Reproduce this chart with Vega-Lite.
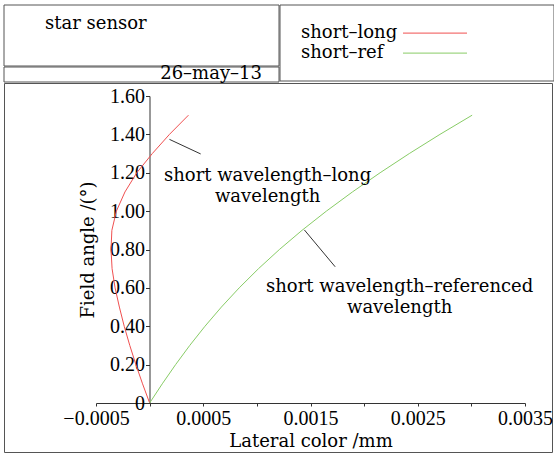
{
  "$schema": "https://vega.github.io/schema/vega-lite/v6.json",
  "padding": {"left": 3, "top": 4, "right": 2, "bottom": 2},
  "autosize": {"type": "pad"},
  "spacing": -3,
  "resolve": {"scale": {"color": "independent"}, "legend": {"color": "independent"}},
  "config": {
    "view": {"stroke": "#555", "strokeWidth": 1},
    "axis": {"labelFont": "Liberation Serif", "labelFontSize": 20, "labelColor": "black", "titleFont": "DejaVu Serif", "titleFontSize": 18, "titleFontWeight": "normal", "titleColor": "black", "grid": false, "domainColor": "#333", "tickColor": "#333"},
    "text": {"font": "DejaVu Serif", "fontSize": 18, "color": "black"}
  },
  "datasets": {
    "curves": [
      {"series": "short–long", "f": 0.0, "v": 0.0},
      {"series": "short–long", "f": 0.1, "v": -0.000066},
      {"series": "short–long", "f": 0.2, "v": -0.000128},
      {"series": "short–long", "f": 0.3, "v": -0.000185},
      {"series": "short–long", "f": 0.4, "v": -0.000237},
      {"series": "short–long", "f": 0.5, "v": -0.000282},
      {"series": "short–long", "f": 0.6, "v": -0.000322},
      {"series": "short–long", "f": 0.7, "v": -0.00035},
      {"series": "short–long", "f": 0.8, "v": -0.00036},
      {"series": "short–long", "f": 0.9, "v": -0.000352},
      {"series": "short–long", "f": 1.0, "v": -0.00031},
      {"series": "short–long", "f": 1.1, "v": -0.00023},
      {"series": "short–long", "f": 1.2, "v": -0.00012},
      {"series": "short–long", "f": 1.3, "v": 0.000025},
      {"series": "short–long", "f": 1.4, "v": 0.000185},
      {"series": "short–long", "f": 1.5, "v": 0.000362},
      {"series": "short–ref", "f": 0.0, "v": 0.0},
      {"series": "short–ref", "f": 0.1, "v": 0.000118},
      {"series": "short–ref", "f": 0.2, "v": 0.000242},
      {"series": "short–ref", "f": 0.3, "v": 0.000374},
      {"series": "short–ref", "f": 0.4, "v": 0.000516},
      {"series": "short–ref", "f": 0.5, "v": 0.000669},
      {"series": "short–ref", "f": 0.6, "v": 0.000835},
      {"series": "short–ref", "f": 0.7, "v": 0.001015},
      {"series": "short–ref", "f": 0.8, "v": 0.00121},
      {"series": "short–ref", "f": 0.9, "v": 0.001421},
      {"series": "short–ref", "f": 1.0, "v": 0.001648},
      {"series": "short–ref", "f": 1.1, "v": 0.001891},
      {"series": "short–ref", "f": 1.2, "v": 0.002149},
      {"series": "short–ref", "f": 1.3, "v": 0.002421},
      {"series": "short–ref", "f": 1.4, "v": 0.002707},
      {"series": "short–ref", "f": 1.5, "v": 0.003007}
    ],
    "series": [
      {"series": "short–long"},
      {"series": "short–ref"}
    ],
    "box": [{"box": "frame"}],
    "header": [{"label": "star sensor"}],
    "date": [{"label": "26–may–13"}],
    "leaders": [
      {"v": 0.000185, "f": 1.374, "v2": 0.000476, "f2": 1.298},
      {"v": 0.001443, "f": 0.902, "v2": 0.00173, "f2": 0.71}
    ],
    "notes": [
      {"v": 0.0011, "f": 1.183, "label": "short wavelength–long\nwavelength"},
      {"v": 0.002331, "f": 0.607, "label": "short wavelength–referenced\nwavelength"}
    ]
  },
  "vconcat": [
    {
      "spacing": -2,
      "hconcat": [
        {
          "spacing": -2,
          "vconcat": [
            {
              "width": 275,
              "height": 61,
              "layer": [
                {"data": {"name": "box"}, "mark": {"type": "rect", "fill": "white", "stroke": "#555", "strokeWidth": 1}},
                {"data": {"name": "header"}, "mark": {"type": "text", "align": "left", "baseline": "alphabetic", "dx": -96.5, "dy": -6.5},
                  "encoding": {"text": {"field": "label"}}}
              ]
            },
            {
              "width": 275,
              "height": 15,
              "layer": [
                {"data": {"name": "box"}, "mark": {"type": "rect", "fill": "white", "stroke": "#555", "strokeWidth": 1}},
                {"data": {"name": "date"}, "mark": {"type": "text", "align": "right", "baseline": "alphabetic", "dx": 120.5, "dy": 4.5},
                  "encoding": {"text": {"field": "label"}}}
              ]
            }
          ]
        },
        {
          "width": 274,
          "height": 76,
          "layer": [
            {
              "data": {"name": "box"},
              "mark": {"type": "rect", "fill": "white", "stroke": "#555", "strokeWidth": 1}
            },
            {
              "data": {"name": "series"},
              "mark": {"type": "line", "strokeWidth": 1},
              "encoding": {
                "color": {"field": "series", "type": "nominal",
                  "scale": {"domain": ["short–long", "short–ref"], "range": ["#f05050", "#88cc66"]},
                  "legend": {"title": null, "orient": "none", "legendX": 420.5, "legendY": 17.6,
                    "symbolType": "M-3.2,0H3.2", "symbolSize": 400, "symbolStrokeWidth": 1,
                    "labelOffset": -144.5, "labelAlign": "left", "labelBaseline": "middle",
                    "labelFont": "DejaVu Serif", "labelFontSize": 18, "labelColor": "black",
                    "rowPadding": 0, "padding": 0, "labelLimit": 300}}
              }
            }
          ]
        }
      ]
    },
    {
      "width": 548,
      "height": 369,
      "encoding": {
        "x": {"field": "v", "type": "quantitative",
          "scale": {"domain": [-0.0005, 0.0035], "range": [92, 521], "nice": false, "zero": false},
          "axis": {"title": "Lateral color /mm", "values": [-0.0005, 0, 0.0005, 0.001, 0.0015, 0.002, 0.0025, 0.003, 0.0035],
            "labelExpr": "abs(round(datum.value*2000)) % 2 == 1 ? format(datum.value, '.4f') : ''",
            "offset": -49, "tickSize": 3, "labelPadding": 2, "titlePadding": 4, "labelFlush": false, "labelOverlap": false}},
        "y": {"field": "f", "type": "quantitative",
          "scale": {"domain": [0, 1.6], "range": [320, 13], "nice": false, "zero": false},
          "axis": {"title": "Field angle /(°)", "values": [0, 0.2, 0.4, 0.6, 0.8, 1.0, 1.2, 1.4, 1.6],
            "labelExpr": "datum.value == 0 ? '0' : format(datum.value, '.2f')",
            "offset": -145.5, "tickSize": 4, "labelPadding": 1, "titlePadding": 12, "labelOverlap": false}}
      },
      "layer": [
        {
          "data": {"name": "curves"},
          "mark": {"type": "line", "strokeWidth": 1},
          "encoding": {
            "order": {"field": "f", "type": "quantitative"},
            "color": {"field": "series", "type": "nominal",
              "scale": {"domain": ["short–long", "short–ref"], "range": ["#f05050", "#88cc66"]},
              "legend": null}
          }
        },
        {
          "data": {"name": "leaders"},
          "mark": {"type": "rule", "color": "#333", "strokeWidth": 1},
          "encoding": {"x2": {"field": "v2"}, "y2": {"field": "f2"}}
        },
        {
          "data": {"name": "notes"},
          "mark": {"type": "text", "font": "DejaVu Serif", "fontSize": 18, "lineBreak": "\n", "lineHeight": 21, "align": "center", "baseline": "middle", "color": "black"},
          "encoding": {"text": {"field": "label"}}
        }
      ]
    }
  ]
}
